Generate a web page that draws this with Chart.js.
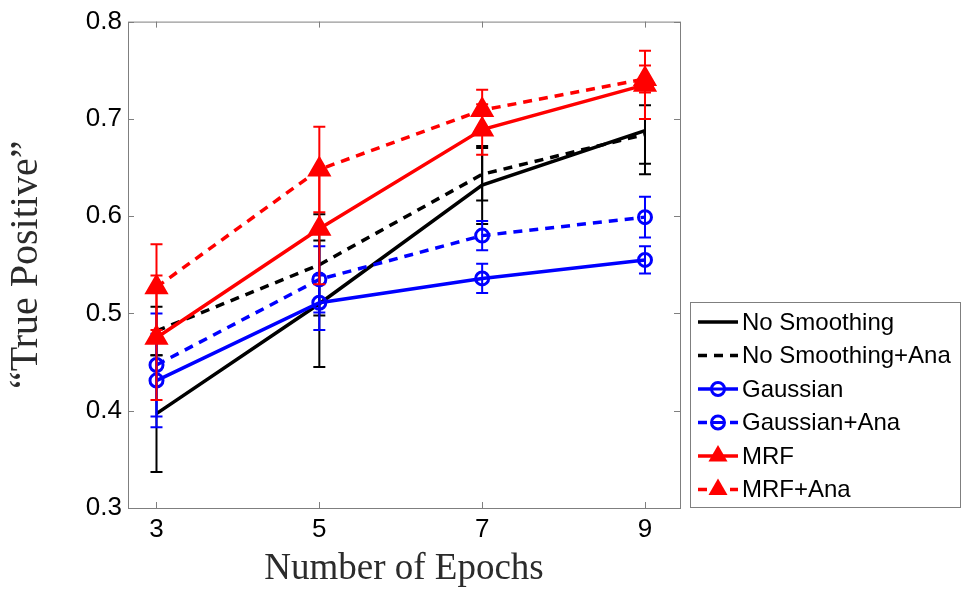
<!DOCTYPE html>
<html>
<head>
<meta charset="utf-8">
<script src="https://cdn.jsdelivr.net/npm/chart.js@4/dist/chart.umd.min.js"></script>
<style>
  html, body { margin: 0; padding: 0; background: #fff; }
</style>
</head>
<body>
<canvas id="chart" width="968" height="589"></canvas>
<script>
// values
var epochs = [3, 5, 7, 9];
var yTicks = [0.3, 0.4, 0.5, 0.6, 0.7, 0.8];

var noSmooth       = [0.397, 0.510, 0.632, 0.688];
var noSmoothErr    = [0.060, 0.065, 0.040, 0.045];
var noSmoothAna    = [0.482, 0.550, 0.643, 0.684];
var noSmoothAnaErr = [0.025, 0.052, 0.027, 0.030];
var gauss          = [0.431, 0.511, 0.536, 0.555];
var gaussErr       = [0.048, 0.028, 0.015, 0.014];
var gaussAna       = [0.447, 0.535, 0.580, 0.599];
var gaussAnaErr    = [0.053, 0.034, 0.015, 0.021];
var mrf            = [0.475, 0.587, 0.689, 0.735];
var mrfErr         = [0.064, 0.057, 0.026, 0.035];
var mrfAna         = [0.527, 0.648, 0.709, 0.741];
var mrfAnaErr      = [0.044, 0.044, 0.021, 0.014];

function pts(vals) {
    return epochs.map(function (e, i) { return { x: e, y: vals[i] }; });
}

function series(label, vals, errs, color, dashed, marker, order) {
    return {
        label: label,
        data: pts(vals),
        errors: errs,
        borderColor: color,
        borderWidth: 3.5,
        borderDash: dashed ? [9, 7] : [],
        pointStyle: marker || 'circle',
        pointRadius: marker === 'triangle' ? 11 : (marker ? 6.5 : 0),
        pointBorderWidth: 3,
        pointBorderColor: color,
        pointBackgroundColor: marker === 'triangle' ? color : 'rgba(0,0,0,0)',
        pointHoverRadius: 0,
        tension: 0,
        fill: false,
        order: order
    };
}

// vertical error bars with caps, drawn just before each series
var errorBars = {
    id: 'errorBars',
    beforeDatasetDraw: function (chart, args) {
        var ds = chart.data.datasets[args.index];
        if (!ds.errors) return;
        var xs = chart.scales.x, ys = chart.scales.y, ctx = chart.ctx;
        ctx.save();
        ctx.strokeStyle = ds.borderColor;
        ctx.lineWidth = 2;
        ctx.setLineDash([]);
        ds.data.forEach(function (p, i) {
            var x = xs.getPixelForValue(p.x);
            var top = ys.getPixelForValue(p.y + ds.errors[i]);
            var bot = ys.getPixelForValue(p.y - ds.errors[i]);
            ctx.beginPath();
            ctx.moveTo(x, top); ctx.lineTo(x, bot);
            ctx.moveTo(x - 6, top); ctx.lineTo(x + 6, top);
            ctx.moveTo(x - 6, bot); ctx.lineTo(x + 6, bot);
            ctx.stroke();
        });
        ctx.restore();
    }
};

// matlab style box with inward ticks
var frame = {
    id: 'frame',
    afterDraw: function (chart) {
        var a = chart.chartArea, ctx = chart.ctx;
        var xs = chart.scales.x, ys = chart.scales.y;
        ctx.save();
        ctx.strokeStyle = '#7f7f7f';
        ctx.lineWidth = 1;
        ctx.strokeRect(a.left + 0.5, a.top + 0.5, a.right - a.left, a.bottom - a.top);
        ctx.beginPath();
        epochs.forEach(function (e) {
            var x = Math.round(xs.getPixelForValue(e)) + 0.5;
            ctx.moveTo(x, a.bottom); ctx.lineTo(x, a.bottom - 6);
            ctx.moveTo(x, a.top); ctx.lineTo(x, a.top + 6);
        });
        yTicks.forEach(function (v) {
            var y = Math.round(ys.getPixelForValue(v)) + 0.5;
            ctx.moveTo(a.left, y); ctx.lineTo(a.left + 6, y);
            ctx.moveTo(a.right, y); ctx.lineTo(a.right - 6, y);
        });
        ctx.stroke();
        ctx.restore();
    }
};

var legendBox = {
    id: 'legendBox',
    afterDraw: function (chart) {
        var ctx = chart.ctx;
        var bx = 690, by = 302, bw = 270, bh = 205;
        ctx.save();
        ctx.fillStyle = '#fff';
        ctx.fillRect(bx, by, bw, bh);
        ctx.strokeStyle = '#7f7f7f';
        ctx.lineWidth = 1;
        ctx.strokeRect(bx + 0.5, by + 0.5, bw, bh);
        ctx.font = '24px "Liberation Sans", Arial, sans-serif';
        ctx.textBaseline = 'middle';
        ctx.textAlign = 'left';
        chart.data.datasets.forEach(function (ds, i) {
            var y = 322 + i * 33.5;
            ctx.strokeStyle = ds.borderColor;
            ctx.lineWidth = 3.5;
            ctx.setLineDash(ds.borderDash);
            ctx.beginPath();
            ctx.moveTo(698, y); ctx.lineTo(738, y);
            ctx.stroke();
            ctx.setLineDash([]);
            var mx = 718;
            if (ds.pointRadius > 0) {
                ctx.lineWidth = 3;
                if (ds.pointStyle === 'triangle') {
                    var r = ds.pointRadius;
                    ctx.fillStyle = ds.borderColor;
                    ctx.beginPath();
                    ctx.moveTo(mx, y - r);
                    ctx.lineTo(mx + r * 0.866, y + r * 0.5);
                    ctx.lineTo(mx - r * 0.866, y + r * 0.5);
                    ctx.closePath();
                    ctx.fill();
                } else {
                    ctx.fillStyle = '#fff';
                    ctx.beginPath();
                    ctx.arc(mx, y, ds.pointRadius, 0, Math.PI * 2);
                    ctx.fill();
                    ctx.stroke();
                    ctx.beginPath();
                    ctx.moveTo(mx - ds.pointRadius, y); ctx.lineTo(mx + ds.pointRadius, y);
                    ctx.stroke();
                }
            }
            ctx.fillStyle = '#000';
            ctx.fillText(ds.label, 742, y + 1);
        });
        ctx.restore();
    }
};

new Chart(document.getElementById('chart').getContext('2d'), {
    type: 'line',
    data: {
        datasets: [
            series('No Smoothing', noSmooth, noSmoothErr, '#000000', false, null, 6),
            series('No Smoothing+Ana', noSmoothAna, noSmoothAnaErr, '#000000', true, null, 5),
            series('Gaussian', gauss, gaussErr, '#0000ff', false, 'circle', 4),
            series('Gaussian+Ana', gaussAna, gaussAnaErr, '#0000ff', true, 'circle', 3),
            series('MRF', mrf, mrfErr, '#ff0000', false, 'triangle', 2),
            series('MRF+Ana', mrfAna, mrfAnaErr, '#ff0000', true, 'triangle', 1)
        ]
    },
    options: {
        responsive: false,
        animation: false,
        devicePixelRatio: 1,
        layout: { padding: { top: 18, right: 288, left: 0, bottom: 0 } },
        plugins: {
            legend: { display: false },
            tooltip: { enabled: false }
        },
        scales: {
            x: {
                type: 'linear',
                min: 2.65,
                max: 9.43,
                afterBuildTicks: function (scale) {
                    scale.ticks = epochs.map(function (v) { return { value: v }; });
                },
                afterFit: function (scale) { scale.height = 81; },
                grid: { display: false, drawTicks: false },
                border: { display: false },
                ticks: {
                    color: '#000',
                    padding: 6,
                    maxRotation: 0,
                    font: { family: '"Liberation Sans", Arial, sans-serif', size: 26 }
                },
                title: {
                    display: true,
                    text: 'Number of Epochs',
                    color: '#2b2b2b',
                    padding: { top: 0, bottom: 1 },
                    font: { family: '"Liberation Serif", "Times New Roman", serif', size: 37, lineHeight: 1 }
                }
            },
            y: {
                min: 0.3,
                max: 0.8,
                afterBuildTicks: function (scale) {
                    scale.ticks = yTicks.map(function (v) { return { value: v }; });
                },
                afterFit: function (scale) { scale.width = 128; },
                grid: { display: false, drawTicks: false },
                border: { display: false },
                ticks: {
                    color: '#000',
                    padding: 6,
                    callback: function (v) { return v.toFixed(1); },
                    font: { family: '"Liberation Sans", Arial, sans-serif', size: 26 }
                },
                title: {
                    display: true,
                    text: '\u201CTrue Positive\u201D',
                    color: '#2b2b2b',
                    padding: { top: 6, bottom: 0 },
                    font: { family: '"Liberation Serif", "Times New Roman", serif', size: 40, lineHeight: 1 }
                }
            }
        }
    },
    plugins: [errorBars, frame, legendBox]
});
</script>
</body>
</html>
